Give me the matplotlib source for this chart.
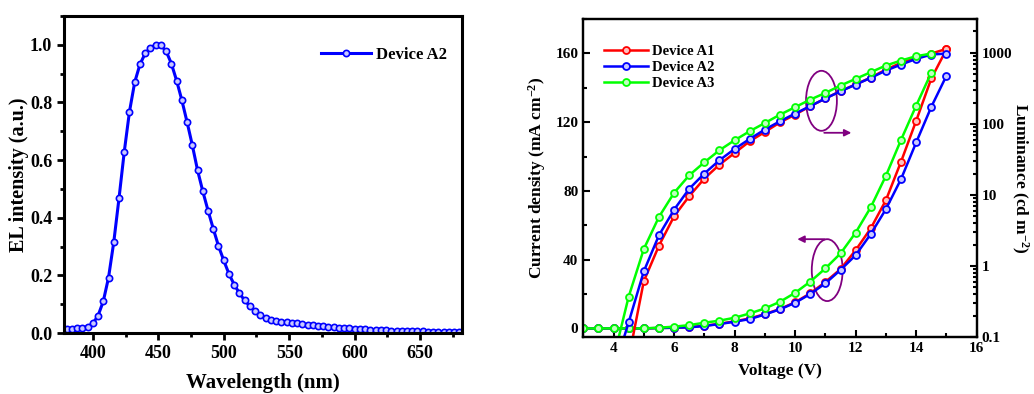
import numpy as np
import matplotlib
matplotlib.use('Agg')
import matplotlib.pyplot as plt
from matplotlib.patches import Ellipse
from matplotlib.ticker import MultipleLocator, LogLocator, FixedLocator, FixedFormatter, NullFormatter

plt.rcParams['font.family'] = ['Liberation Serif', 'DejaVu Serif']
plt.rcParams['font.weight'] = 'bold'
plt.rcParams['axes.labelweight'] = 'bold'
plt.rcParams['mathtext.fontset'] = 'custom'
plt.rcParams['mathtext.rm'] = 'Liberation Serif:bold'
plt.rcParams['mathtext.bf'] = 'Liberation Serif:bold'
plt.rcParams['mathtext.default'] = 'bf'

# EL spectrum, Device A2
wavelength = [380, 384, 388, 392, 396, 400, 404, 408, 412, 416, 420, 424, 428, 432, 436,
              440, 444, 448, 452, 456, 460, 464, 468, 472, 476, 480, 484, 488, 492, 496,
              500, 504, 508, 512, 516, 520, 524, 528, 532, 536, 540, 544, 548, 552, 556,
              560, 564, 568, 572, 576, 580, 584, 588, 592, 596, 600, 604, 608, 612, 616,
              620, 624, 628, 632, 636, 640, 644, 648, 652, 656, 660, 664, 668, 672, 676, 680]
el_a2 = [0.015, 0.015, 0.016, 0.018, 0.022, 0.033, 0.060, 0.110, 0.192, 0.315, 0.467, 0.628,
         0.768, 0.870, 0.932, 0.970, 0.990, 1.000, 0.998, 0.978, 0.935, 0.876, 0.808, 0.732,
         0.652, 0.565, 0.492, 0.425, 0.362, 0.302, 0.252, 0.205, 0.168, 0.138, 0.113, 0.093,
         0.076, 0.062, 0.052, 0.045, 0.041, 0.039, 0.037, 0.035, 0.033, 0.031, 0.029, 0.027,
         0.025, 0.023, 0.021, 0.020, 0.018, 0.017, 0.016, 0.015, 0.014, 0.013, 0.012, 0.011,
         0.010, 0.009, 0.0085, 0.008, 0.0075, 0.007, 0.0065, 0.006, 0.0055, 0.005, 0.0045,
         0.004, 0.004, 0.0035, 0.003, 0.003]

# J-V-L
v_j = [3.0, 3.5, 4.0, 4.5, 5.0, 5.5, 6.0, 6.5, 7.0, 7.5, 8.0, 8.5, 9.0, 9.5, 10.0,
       10.5, 11.0, 11.5, 12.0, 12.5, 13.0, 13.5, 14.0, 14.5, 15.0]
j_a1 = [0, 0, 0, 0, 0, 0.2, 0.4, 0.7, 1.5, 2.7, 4.1, 5.8, 8.3, 11.3, 15.2, 20.4, 27.0,
        34.5, 45.5, 58.2, 74.6, 97.0, 120.8, 145.4, 162.3]
j_a2 = [0, 0, 0, 0, 0, 0.2, 0.4, 0.6, 1.4, 2.5, 3.9, 5.4, 8.1, 11.1, 14.9, 20.0, 26.2,
        34.0, 42.6, 54.9, 69.4, 86.9, 108.2, 128.9, 147.0]
j_a3 = [0, 0, 0, 0, 0, 0.4, 1.0, 1.9, 3.3, 4.5, 6.2, 8.7, 11.6, 15.5, 20.7, 27.2, 34.9,
        43.6, 55.7, 70.5, 88.8, 109.7, 129.6, 148.8]

v_l1 = [4.5, 5.0, 5.5, 6.0, 6.5, 7.0, 7.5, 8.0, 8.5, 9.0, 9.5, 10.0, 10.5, 11.0, 11.5,
        12.0, 12.5, 13.0, 13.5, 14.0, 14.5, 15.0]
l_a1 = [0.05, 0.61, 1.93, 5.0, 9.6, 17, 26.7, 39, 57, 77, 105, 135, 178, 228, 290, 360,
        450, 582, 724, 850, 978, 1138]
v_l2 = [4.0, 4.5, 5.0, 5.5, 6.0, 6.5, 7.0, 7.5, 8.0, 8.5, 9.0, 9.5, 10.0, 10.5, 11.0,
        11.5, 12.0, 12.5, 13.0, 13.5, 14.0, 14.5, 15.0]
l_a2 = [0.033, 0.161, 0.84, 2.7, 6.2, 12.2, 20, 30.8, 44.4, 61.5, 83.3, 109, 140, 178,
        228, 288, 358, 445, 564, 685, 822, 948, 978]
v_l3 = [4.0, 4.5, 5.0, 5.5, 6.0, 6.5, 7.0, 7.5, 8.0, 8.5, 9.0, 9.5, 10.0, 10.5, 11.0,
        11.5, 12.0, 12.5, 13.0, 13.5, 14.0, 14.5]
l_a3 = [0.05, 0.37, 1.73, 4.9, 10.7, 18.9, 28.8, 42.6, 58.9, 78.9, 103, 135, 172, 220,
        273, 347, 431, 535, 664, 780, 898, 978]

fig = plt.figure(figsize=(10.34, 3.94), dpi=100)

# ---- left panel: EL spectrum
ax1 = fig.add_axes([0.0619, 0.1548, 0.3849, 0.8046])
ax1.plot(wavelength, el_a2, color='#0000ff', lw=2.2, marker='o', ms=4.5,
         mfc='#c8c8ff', mec='#0000ff', mew=1.2, label='Device A2')
ax1.set_xlim(378, 682)
ax1.set_ylim(0, 1.1)
ax1.xaxis.set_major_locator(MultipleLocator(50))
ax1.xaxis.set_minor_locator(MultipleLocator(25))
ax1.yaxis.set_major_locator(FixedLocator([0, 0.2, 0.4, 0.6, 0.8, 1.0]))
ax1.yaxis.set_minor_locator(MultipleLocator(0.1))
ax1.yaxis.set_major_formatter(FixedFormatter(['0.0', '0.2', '0.4', '0.6', '0.8', '1.0']))
ax1.tick_params(which='both', direction='out', width=2, labelsize=13)
ax1.tick_params(which='major', length=5)
ax1.tick_params(which='minor', length=3)
for s in ax1.spines.values():
    s.set_linewidth(2.2)
ax1.set_xlabel('Wavelength (nm)', fontsize=15, labelpad=8)
ax1.set_ylabel('EL intensity (a.u.)', fontsize=14.5, labelpad=1)
ax1.legend(loc='upper right', frameon=False, fontsize=12, handlelength=3, numpoints=1,
           handletextpad=0.3, bbox_to_anchor=(1.0, 0.95))

# ---- right panel: J-V-L
ax2 = fig.add_axes([0.5641, 0.1447, 0.3805, 0.8071])
ax3 = ax2.twinx()
styles = [('#ff0000', '#ffc0c0'), ('#0000ff', '#c8c8ff'), ('#00ff00', '#c0ffc0')]
names = ['Device A1', 'Device A2', 'Device A3']
j_sets = [(v_j, j_a1), (v_j, j_a2), (v_j[:len(j_a3)], j_a3)]
l_sets = [(v_l1, l_a1), (v_l2, l_a2), (v_l3, l_a3)]
for (c, fc), name, (vx, jy), (lx, ly) in zip(styles, names, j_sets, l_sets):
    ax2.plot(vx, jy, color=c, lw=1.8, marker='o', ms=5, mfc=fc, mec=c, mew=1.3, label=name)
    ax3.plot(lx, ly, color=c, lw=1.8, marker='o', ms=5, mfc=fc, mec=c, mew=1.3)

ax2.set_xlim(3, 16)
ax2.set_ylim(-5, 180)
ax2.xaxis.set_major_locator(FixedLocator([4, 6, 8, 10, 12, 14, 16]))
ax2.xaxis.set_minor_locator(MultipleLocator(1))
ax2.yaxis.set_major_locator(FixedLocator([0, 40, 80, 120, 160]))
ax2.yaxis.set_minor_locator(MultipleLocator(20))
ax2.tick_params(which='both', direction='in', width=1.5, labelsize=11)
ax2.tick_params(which='major', length=5)
ax2.tick_params(which='minor', length=3)
ax2.set_xlabel('Voltage (V)', fontsize=12.5, labelpad=6)
ax2.set_ylabel('Current density (mA cm$^{-2}$)', fontsize=12.5, labelpad=5)

ax3.set_yscale('log')
ax3.set_ylim(0.1, 3000)
ax3.yaxis.set_major_locator(FixedLocator([0.1, 1, 10, 100, 1000]))
ax3.yaxis.set_major_formatter(FixedFormatter(['0.1', '1', '10', '100', '1000']))
ax3.yaxis.set_minor_locator(LogLocator(base=10, subs=np.arange(2, 10), numticks=20))
ax3.yaxis.set_minor_formatter(NullFormatter())
ax3.tick_params(which='both', direction='in', width=1.5, labelsize=11)
ax3.tick_params(which='major', length=5)
ax3.tick_params(which='minor', length=3)
ax3.set_ylabel('Luminance (cd m$^{-2}$)', fontsize=12.5, rotation=270, va='center', ha='center')
ax3.yaxis.set_label_coords(1.108, 0.5)
for ax in (ax2, ax3):
    for s in ax.spines.values():
        s.set_linewidth(1.6)

# ellipses and arrows marking the axis of each family
purple = '#800080'
ax2.add_patch(Ellipse((10.87, 132.4), 1.02, 34.9, fill=False, ec=purple, lw=1.3))
ax2.annotate('', xy=(11.95, 113.8), xytext=(10.87, 113.8),
             arrowprops=dict(arrowstyle='-|>', color=purple, lw=1.3, mutation_scale=10))
ax2.add_patch(Ellipse((11.06, 33.9), 1.02, 36, fill=False, ec=purple, lw=1.3))
ax2.annotate('', xy=(9.98, 51.9), xytext=(11.06, 51.9),
             arrowprops=dict(arrowstyle='-|>', color=purple, lw=1.3, mutation_scale=10))

ax2.legend(loc='upper left', frameon=False, fontsize=10.5, handlelength=3, numpoints=1,
           labelspacing=0.2, handletextpad=0.3, bbox_to_anchor=(0.02, 0.96))

fig.savefig('out.png', dpi=100)
